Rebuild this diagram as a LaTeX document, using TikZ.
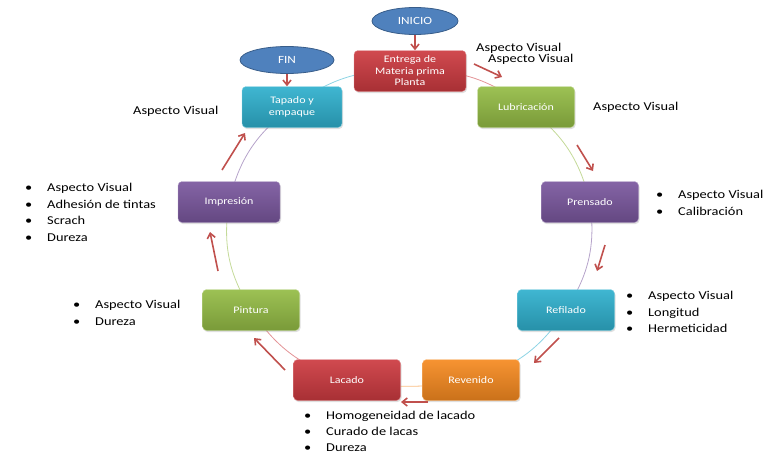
\documentclass[tikz,border=0pt]{standalone}
\usepackage{fontspec}
\setmainfont{Carlito}[FakeStretch=1.2]
\usetikzlibrary{arrows.meta,shapes.geometric,shadows,backgrounds}
\definecolor{rojo}{HTML}{C0504D}
\definecolor{rojoc}{HTML}{CC3A40}
\definecolor{verdec}{HTML}{94BC45}
\definecolor{moradoc}{HTML}{7A579E}
\definecolor{cianc}{HTML}{2FB0CE}
\definecolor{naranjac}{HTML}{F68A20}
\definecolor{azul}{HTML}{4F81BD}
\definecolor{azulb}{HTML}{385D8A}
\newcommand{\punto}{\makebox[22pt][l]{\textbullet}}
\tikzset{
  etapa/.style={rounded corners=4pt,minimum width=97pt,minimum height=41pt,inner sep=2pt,
    text=white,font=\fontsize{10}{11.5}\selectfont,align=center,
    top color=#1!92!white,bottom color=#1!82!black,draw=#1!55!white,
    drop shadow={opacity=0.25,shadow xshift=1pt,shadow yshift=-1.5pt}},
  terminal/.style={ellipse,fill=azul,draw=azulb,line width=0.8pt,minimum width=86pt,
    minimum height=27pt,text=white,font=\fontsize{11}{13}\selectfont},
  lista/.style={anchor=north west,align=left,inner sep=0pt,font=\fontsize{12}{16.5}\selectfont},
  flecha/.style={rojo,line width=1.6pt,-{Straight Barb[length=5pt,width=8pt]}},
  ciclo/.style={#1!55!white,line width=0.8pt}
}
\begin{document}
\begin{tikzpicture}[x=1pt,y=-1pt]
\useasboundingbox (0,0) rectangle (778,453);
% etapas
\node[etapa=rojoc,minimum width=112pt] (ent) at (410,71) {Entrega de\\Materia prima\\Planta};
\node[etapa=verdec] (lub) at (526,107) {Lubricación};
\node[etapa=moradoc] (pren) at (590,202) {Prensado};
\node[etapa=cianc] (refi) at (566,310) {Refilado};
\node[etapa=naranjac] (reve) at (471,380) {Revenido};
\node[etapa=rojoc,minimum width=107pt] (laca) at (347,380) {Lacado};
\node[etapa=verdec] (pint) at (251,310) {Pintura};
\node[etapa=moradoc,minimum width=102pt] (impr) at (229,202) {Impresión};
\node[etapa=cianc,minimum width=100pt] (tapa) at (292,107) {Tapado y\\empaque};
\node[terminal] (inicio) at (415,21) {INICIO};
\node[terminal,minimum width=94pt] (fin) at (287,60) {FIN};
% ciclo
\begin{scope}[on background layer]
\draw[ciclo=rojoc] (ent.center) to[bend left=20] (lub.center);
\draw[ciclo=verdec] (lub.center) to[bend left=20] (pren.center);
\draw[ciclo=moradoc] (pren.center) to[bend left=20] (refi.center);
\draw[ciclo=cianc] (refi.center) to[bend left=20] (reve.center);
\draw[ciclo=naranjac] (reve.center) to[bend left=10] (laca.center);
\draw[ciclo=rojoc] (laca.center) to[bend left=20] (pint.center);
\draw[ciclo=verdec] (pint.center) to[bend left=20] (impr.center);
\draw[ciclo=moradoc] (impr.center) to[bend left=20] (tapa.center);
\draw[ciclo=cianc] (tapa.center) to[bend left=20] (ent.center);
\end{scope}
% flechas
\draw[flecha] (inicio.south) -- (inicio.south |- ent.north);
\draw[flecha] (fin.south) -- (fin.south |- tapa.north);
\draw[flecha] (474,64) -- (502,77);
\draw[flecha] (577,145) -- (593,171);
\draw[flecha] (605,245) -- (597,271);
\draw[flecha] (559,338) -- (534,363);
\draw[flecha] (428,402) -- (401,402);
\draw[flecha] (285,370) -- (254,338);
\draw[flecha] (218,271) -- (210,232);
\draw[flecha] (222,170) -- (245,133);
% controles
\node[lista] (c1) at (476,43) {Aspecto Visual};
\node[lista] (c2) at (488,54) {Aspecto Visual};
\node[lista] (c3) at (593,102) {Aspecto Visual};
\node[lista] (c4) at (133,106) {Aspecto Visual};
\node[lista] (c5) at (656,190) {\punto Aspecto Visual\\\punto Calibración};
\node[lista] (c6) at (626,291) {\punto Aspecto Visual\\\punto Longitud\\\punto Hermeticidad};
\node[lista,font=\fontsize{12}{16}\selectfont] (c7) at (304,411) {\punto Homogeneidad de lacado\\\punto Curado de lacas\\\punto Dureza};
\node[lista] (c8) at (73,300) {\punto Aspecto Visual\\\punto Dureza};
\node[lista] (c9) at (25,183) {\punto Aspecto Visual\\\punto Adhesión de tintas\\\punto Scrach\\\punto Dureza};
\end{tikzpicture}
\end{document}
